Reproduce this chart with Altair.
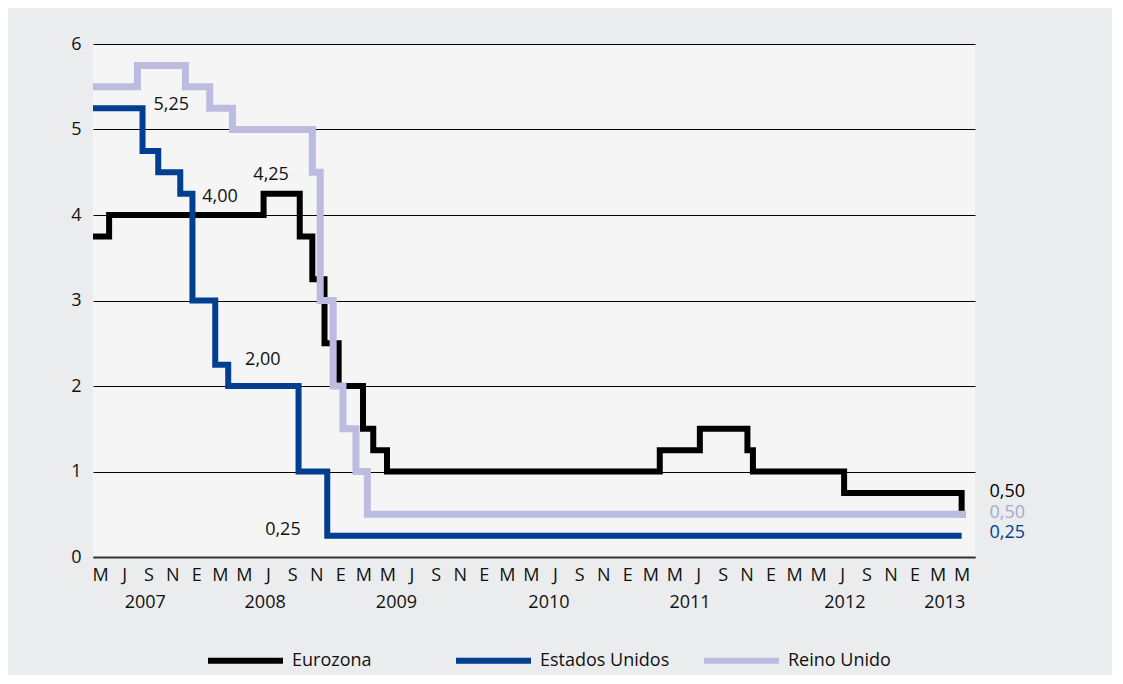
import altair as alt
import pandas as pd

FONT = "Open Sans"

series_names = ["Eurozona", "Estados Unidos", "Reino Unido"]
series_colors = ["#000000", "#003f8f", "#bbbcdf"]

# Eurozona (step changes: date of change, new rate)
euro_dates = ["2007-04-27", "2007-06-07", "2008-07-04", "2008-10-04", "2008-11-05",
              "2008-12-06", "2009-01-11", "2009-03-14", "2009-04-09", "2009-05-14",
              "2011-04-08", "2011-07-19", "2011-11-17", "2011-12-01", "2012-07-20",
              "2013-05-15", "2013-05-26"]
euro_values = [3.75, 4.00, 4.25, 3.75, 3.25, 2.50, 2.00, 1.50, 1.25, 1.00,
               1.25, 1.50, 1.25, 1.00, 0.75, 0.50, 0.50]

# Estados Unidos
us_dates = ["2007-04-27", "2007-08-31", "2007-10-10", "2007-12-05", "2008-01-05",
            "2008-03-03", "2008-04-05", "2008-10-01", "2008-12-13", "2013-05-15"]
us_values = [5.25, 4.75, 4.50, 4.25, 3.00, 2.25, 2.00, 1.00, 0.25, 0.25]

# Reino Unido
uk_dates = ["2007-04-27", "2007-08-18", "2007-12-18", "2008-02-18", "2008-04-16",
            "2008-11-05", "2008-11-25", "2008-12-28", "2009-01-22", "2009-02-24",
            "2009-03-25", "2013-05-26"]
uk_values = [5.50, 5.75, 5.50, 5.25, 5.00, 4.50, 3.00, 2.00, 1.50, 1.00, 0.50, 0.50]

# Annotations inside the plot
ann_text = ["5,25", "4,00", "4,25", "2,00", "0,25"]
ann_dates = ["2007-09-28", "2008-01-30", "2008-06-08", "2008-05-18", "2008-07-08"]
ann_pos = [5.29, 4.21, 4.47, 2.30, 0.32]

# End-of-series labels
end_text = ["0,50", "0,50", "0,25"]
end_dates = ["2013-07-25", "2013-07-25", "2013-07-25"]
end_pos = [0.76, 0.52, 0.28]
end_colors = ["#000000", "#a7a8d6", "#003f8f"]

# Year labels under the month ticks
year_text = ["2007", "2008", "2009", "2010", "2011", "2012", "2013"]
year_dates = ["2007-09-07", "2008-07-08", "2009-06-07", "2010-06-30",
              "2011-06-24", "2012-07-22", "2013-04-02"]

month_initials = ["E", "F", "M", "A", "M", "J", "J", "A", "S", "O", "N", "D"]
tick_dates = pd.date_range("2007-05-15", "2013-05-15", freq=pd.DateOffset(months=2))
tick_ms = [int(t.value // 10**6) for t in tick_dates]

x_start = int(pd.Timestamp("2007-04-27").value // 10**6)
x_end = int(pd.Timestamp("2013-06-18").value // 10**6)

rates = pd.concat([
    pd.DataFrame({"serie": "Eurozona", "fecha": euro_dates, "tipo": euro_values}),
    pd.DataFrame({"serie": "Estados Unidos", "fecha": us_dates, "tipo": us_values}),
    pd.DataFrame({"serie": "Reino Unido", "fecha": uk_dates, "tipo": uk_values}),
], ignore_index=True)

ann_df = pd.DataFrame({"texto": ann_text, "fecha": ann_dates, "pos": ann_pos})
end_df = pd.DataFrame({"texto": end_text, "fecha": end_dates, "pos": end_pos, "col": end_colors})
year_df = pd.DataFrame({"anio": year_text, "fecha": year_dates})

label_expr = "[" + ",".join("'%s'" % m for m in month_initials) + "][utcmonth(datum.value)]"

x_scale = alt.Scale(type="utc", domain=[x_start, x_end])
y_scale = alt.Scale(domain=[0, 6])

x_axis = alt.Axis(values=tick_ms, labelExpr=label_expr, title=None, ticks=False, grid=False,
                  domainColor="#333333", domainWidth=2, labelPadding=9, labelFontSize=18,
                  labelFont=FONT, labelColor="#111111", labelOverlap=False, labelFlush=False)
y_axis = alt.Axis(values=[0, 1, 2, 3, 4, 5, 6], title=None, ticks=False, domain=False,
                  gridColor="#000000", gridWidth=1, gridOpacity=1, labelPadding=12,
                  labelFontSize=18, labelFont=FONT, labelColor="#111111")

color = alt.Color("serie:N", scale=alt.Scale(domain=series_names, range=series_colors),
                  legend=alt.Legend(title=None, orient="none", direction="horizontal",
                                    legendX=112, legendY=576, symbolType="stroke",
                                    symbolSize=5625, symbolStrokeWidth=6, labelFontSize=18,
                                    labelFont=FONT, labelColor="#111111", columns=3,
                                    gridAlign="all", columnPadding=22, labelOffset=6,
                                    labelLimit=300))

base = alt.Chart(rates).encode(
    x=alt.X("fecha:T", scale=x_scale, axis=x_axis),
    y=alt.Y("tipo:Q", scale=y_scale, axis=y_axis),
    color=color,
)

def series_line(name, width):
    return base.transform_filter(alt.datum.serie == name).mark_line(
        interpolate="step-after", strokeWidth=width, strokeJoin="miter", strokeCap="butt")

lines = [series_line("Eurozona", 6), series_line("Estados Unidos", 6), series_line("Reino Unido", 7)]

ann = alt.Chart(ann_df).mark_text(align="left", baseline="middle", fontSize=18, font=FONT,
                                  color="#111111").encode(
    x=alt.X("fecha:T", scale=x_scale, axis=x_axis),
    y=alt.Y("pos:Q", scale=y_scale, axis=y_axis),
    text="texto:N",
)

ends = alt.Chart(end_df).mark_text(align="left", baseline="middle", fontSize=18, font=FONT).encode(
    x=alt.X("fecha:T", scale=x_scale, axis=x_axis),
    y=alt.Y("pos:Q", scale=y_scale, axis=y_axis),
    text="texto:N",
    color=alt.Color("col:N", scale=None),
)

years = alt.Chart(year_df).mark_text(align="center", baseline="middle", fontSize=18, font=FONT,
                                     color="#111111").encode(
    x=alt.X("fecha:T", scale=x_scale, axis=x_axis),
    y=alt.value(559),
    text="anio:N",
)

chart = alt.layer(*lines, ann, ends, years).properties(
    width=882, height=513,
    autosize=alt.AutoSizeParams(type="none"),
    padding={"left": 85, "top": 36, "right": 137, "bottom": 118},
    background="#ebeced",
).configure_view(fill="#f5f5f5", strokeWidth=0)

chart.save("out.html", embed_options={"renderer": "svg", "actions": False})
